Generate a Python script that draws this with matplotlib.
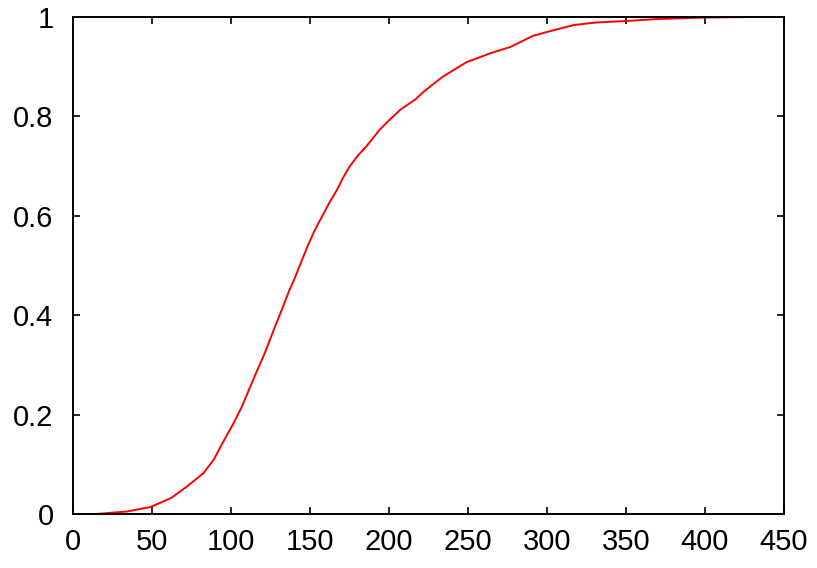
import numpy as np
import matplotlib.pyplot as plt

x = [15, 34, 49, 62, 72, 82.5, 89, 95, 101.5, 107, 114, 121.5, 127, 132,
     137, 140, 144, 149, 153, 157.5, 162, 167, 171, 175, 180, 186, 194, 200,
     207, 217, 222, 234, 249, 264, 277, 291, 300, 317, 331, 350, 370, 400,
     430]
cdf = [0.0, 0.005, 0.014, 0.032, 0.055, 0.082, 0.109, 0.145, 0.182, 0.217,
       0.27, 0.325, 0.37, 0.41, 0.451, 0.472, 0.504, 0.543, 0.571, 0.598,
       0.625, 0.652, 0.677, 0.699, 0.72, 0.741, 0.773, 0.792, 0.813, 0.835,
       0.85, 0.88, 0.909, 0.927, 0.94, 0.962, 0.97, 0.984, 0.989, 0.992,
       0.996, 0.999, 1.0]

xticks = [0, 50, 100, 150, 200, 250, 300, 350, 400, 450]
yticks = [0, 0.2, 0.4, 0.6, 0.8, 1]
ytick_labels = ['0', '0.2', '0.4', '0.6', '0.8', '1']

plt.rcParams['font.family'] = ['Liberation Sans', 'DejaVu Sans']

fig = plt.figure(figsize=(8.17, 5.68), dpi=100)
ax = fig.add_axes([0.0894, 0.0951, 0.8702, 0.8749])

ax.plot(x, cdf, color='#ff0000', linewidth=1.4)

ax.set_xlim(0, 450)
ax.set_ylim(0, 1)
ax.set_xticks(xticks)
ax.set_xticklabels([str(t) for t in xticks])
ax.set_yticks(yticks)
ax.set_yticklabels(ytick_labels)

for s in ax.spines.values():
    s.set_linewidth(1.4)
ax.tick_params(direction='in', length=5, width=1.2, top=True, right=True,
               labelsize=21)
ax.tick_params(axis='x', pad=10)
ax.tick_params(axis='y', pad=14)

fig.savefig('out.png', dpi=100)
